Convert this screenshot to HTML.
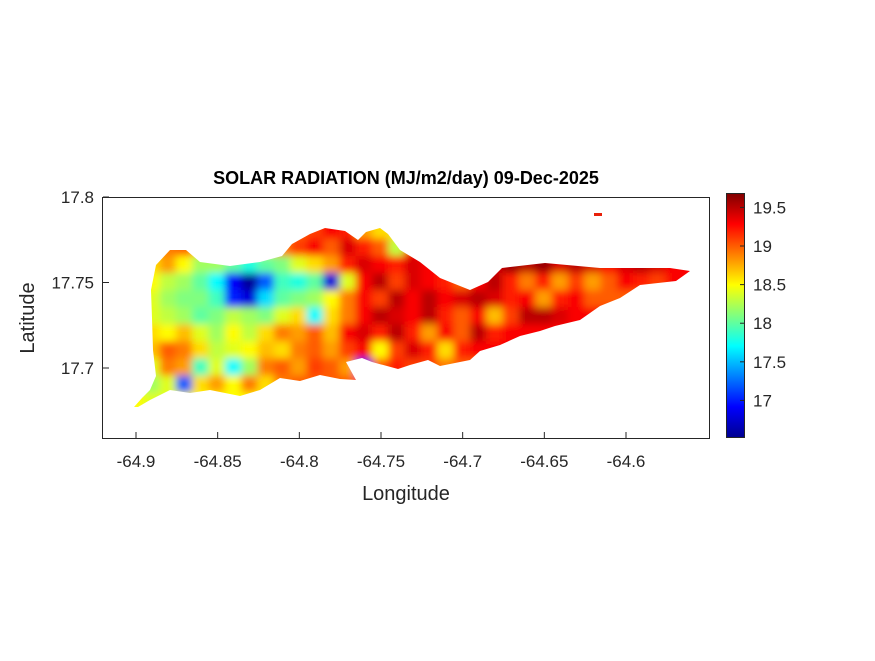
<!DOCTYPE html>
<html><head><meta charset="utf-8"><style>
body{margin:0;background:#fff;}
svg text{font-family:"Liberation Sans",Arial,sans-serif;fill:#262626;}
</style></head><body>
<svg id="chart" width="875" height="656" viewBox="0 0 875 656" xmlns="http://www.w3.org/2000/svg">
<defs>
<filter id="blur" x="-5%" y="-5%" width="110%" height="110%"><feGaussianBlur stdDeviation="4"/></filter>
<clipPath id="island"><polygon points="134,407 142,398 150,390 156,376 153,350 152,318 151,290 156,265 170,250 186,250 200,262 230,266 260,262 282,256 292,244 310,234 325,228 345,231 358,240 366,232 380,228 388,234 400,250 420,262 440,278 470,290 488,282 502,268 545,263 600,268 650,268 670,268 690,271 676,281 640,285 620,298 600,306 580,320 555,326 540,331 520,336 500,345 480,351 470,360 440,366 428,360 410,365 398,369 372,362 362,358 346,362 356,380 340,379 320,375 300,381 280,378 260,390 240,396 210,390 190,393 170,390 150,400 138,407"/></clipPath>
<linearGradient id="jet" x1="0" y1="1" x2="0" y2="0">
<stop offset="0" stop-color="#00008f"/><stop offset="0.125" stop-color="#0000ff"/><stop offset="0.375" stop-color="#00ffff"/><stop offset="0.625" stop-color="#ffff00"/><stop offset="0.875" stop-color="#ff0000"/><stop offset="1" stop-color="#800000"/>
</linearGradient>
</defs>
<g id="cells" clip-path="url(#island)"><g id="cellsInner" filter="url(#blur)"></g></g>
<rect x="594" y="213" width="8" height="3" fill="#e8200a"/>
<rect x="102.5" y="197.5" width="607" height="241" fill="none" stroke="#262626" stroke-width="1"/>
<g id="axes"></g>
<text x="406" y="184" text-anchor="middle" font-size="18" font-weight="bold" style="fill:#000">SOLAR RADIATION (MJ/m2/day) 09-Dec-2025</text>
<text x="406" y="500" text-anchor="middle" font-size="20">Longitude</text>
<text x="0" y="0" transform="translate(34,318) rotate(-90)" text-anchor="middle" font-size="20">Latitude</text>
<rect x="726.5" y="193.5" width="18" height="244" fill="url(#jet)" stroke="#262626" stroke-width="1"/>
<g id="cbar"></g>
</svg>
<script>
const xTicks=[-64.9,-64.85,-64.8,-64.75,-64.7,-64.65,-64.6];
const yTicks=[17.8,17.75,17.7];
const cbTicks=[17,17.5,18,18.5,19,19.5];
const lon0=-64.905, dLon=0.01, lat0=17.795, dLat=0.01;
const row0=[19,19,19,19,19,19,19,19,19,19,19,19,19,19,19,19,19,19,19,19,19,19,19,19,19,19,19,19,19,19,19,19,19,19,19];
const row1=[18.8,18.8,18.9,18.9,18.8,18.8,18.8,18.8,18.8,18.8,19,19.1,19.3,19.2,18.8,18.6,18.6,19.2,19.2,19.2,19.2,19.2,19.2,19.2,19.2,19.2,19.2,19.2,19.2,19.2,19.2,19.2,19.2,19.2,19.2];
const row2=[18.8,18.8,18.9,19.0,18.7,18.5,18.4,18.3,18.6,18.9,19.1,19.3,19.0,19.4,19.2,19.0,18.3,19.3,19.3,19.3,19.3,19.3,19.5,19.6,19.6,19.6,19.5,19.5,19.4,19.4,19.4,19.4,19.4,19.4,19.4];
const row3=[18.5,18.6,18.8,18.5,18.2,18.2,18.0,17.8,18.0,18.1,18.4,18.6,18.8,19.2,19.4,19.3,19.2,19.4,19.3,19.3,19.4,19.3,19.4,19.6,19.5,19.6,19.4,19.5,19.4,19.3,19.4,19.5,19.4,19.3,19.3];
const row4=[18.4,18.5,18.3,18.2,18.0,17.7,16.9,16.6,17.2,17.9,17.8,18.0,16.8,18.4,19.3,19.5,19.1,19.4,19.3,19.2,19.0,19.3,19.5,19.2,18.9,19.2,18.8,19.1,18.8,19.0,19.3,19.2,19.1,19.3,19.3];
const row5=[18.5,18.4,18.2,18.1,18.1,17.9,17.0,16.8,17.6,18.0,18.1,18.2,18.5,18.9,19.3,19.1,19.5,19.3,19.5,19.3,19.4,19.5,19.4,19.2,19.3,18.8,19.2,19.3,19.0,19,19,19,19,19,19];
const row6=[18.5,18.4,18.3,18.2,18.0,18.1,18.3,18.2,18.1,18.4,18.6,17.7,18.6,18.9,19.3,19.5,19.4,19.3,19.5,19.2,19.0,19.3,18.7,19.1,19.5,19.5,19.4,19.3,19.3,19.3,19.3,19.3,19.3,19.3,19.3];
const row7=[18.4,18.6,18.5,18.7,18.4,18.2,18.5,18.3,18.6,18.9,18.8,19.0,18.7,19.3,19.4,19.2,19.5,19.2,18.8,19.3,19.0,19.5,19.2,19.3,19.3,19.3,19.3,19.3,19.3,19.3,19.3,19.3,19.3,19.3,19.3];
const row8=[18.4,18.7,19.0,18.9,18.6,18.3,18.4,18.5,18.7,18.6,18.9,19.0,18.8,19.1,19.3,18.5,19.1,19.4,19.2,18.6,19.2,19.3,19.3,19.3,19.3,19.3,19.3,19.3,19.3,19.3,19.3,19.3,19.3,19.3,19.3];
const row9=[18.3,18.4,18.9,18.8,17.9,18.4,17.7,18.2,18.9,19.0,18.8,19.1,19.0,18.8,17.0,19.0,19.2,19.1,19.1,18.9,19.0,19,19,19,19,19,19,19,19,19,19,19,19,19,19];
const row10=[18.4,18.2,18.4,17.2,18.6,18.8,18.5,18.9,18.6,18.9,19,19,19,19,19,19,19,19,19,19,19,19,19,19,19,19,19,19,19,19,19,19,19,19,19];
const row11=[18.5,18.4,18.4,18.5,18.5,18.5,18.5,18.5,18.5,18.5,18.5,18.5,18.5,18.5,18.5,18.5,18.5,18.5,18.5,18.5,18.5,18.5,18.5,18.5,18.5,18.5,18.5,18.5,18.5,18.5,18.5,18.5,18.5,18.5,18.5];
const grid=[row0,row1,row2,row3,row4,row5,row6,row7,row8,row9,row10,row11];
const cmin=16.52, cmax=19.68;
const NS='http://www.w3.org/2000/svg';
function xs(lon){return 136+(lon+64.9)*(490/0.3);}
function ys(lat){return 197+(17.8-lat)*(171/0.1);}
function cb(v){return 437.5-(v-cmin)/(cmax-cmin)*244;}
function jet(v){let t=(v-cmin)/(cmax-cmin);t=Math.max(0,Math.min(1,t));
 const f=(x)=>Math.max(0,Math.min(1,1.5-Math.abs(4*t-x)));
 const r=f(3),g=f(2),b=f(1);return `rgb(${Math.round(r*255)},${Math.round(g*255)},${Math.round(b*255)})`;}
const inner=document.getElementById('cellsInner');
grid.forEach((row,r)=>row.forEach((v,c)=>{
 const lon=lon0+c*dLon, lat=lat0-r*dLat;
 const x1=xs(lon), x2=xs(lon+dLon), y1=ys(lat), y2=ys(lat-dLat);
 const e=document.createElementNS(NS,'rect');
 e.setAttribute('x',x1-1);e.setAttribute('y',y1-1);e.setAttribute('width',x2-x1+2);e.setAttribute('height',y2-y1+2);
 e.setAttribute('fill',jet(v));
 
 
 inner.appendChild(e);
}));
const ax=document.getElementById('axes');
xTicks.forEach(t=>{const x=xs(t);
 const l=document.createElementNS(NS,'line');l.setAttribute('x1',x);l.setAttribute('x2',x);l.setAttribute('y1',438);l.setAttribute('y2',432);l.setAttribute('stroke','#262626');
 
 
 ax.appendChild(l);
 const tx=document.createElementNS(NS,'text');tx.setAttribute('x',x);tx.setAttribute('y',467);tx.setAttribute('text-anchor','middle');tx.setAttribute('font-size','17');tx.textContent=String(t);
 
 
 ax.appendChild(tx);});
yTicks.forEach(t=>{const y=ys(t);
 const l=document.createElementNS(NS,'line');l.setAttribute('x1',103);l.setAttribute('x2',109);l.setAttribute('y1',y);l.setAttribute('y2',y);l.setAttribute('stroke','#262626');
 
 
 ax.appendChild(l);
 const tx=document.createElementNS(NS,'text');tx.setAttribute('x',94);tx.setAttribute('y',y+6);tx.setAttribute('text-anchor','end');tx.setAttribute('font-size','17');tx.textContent=String(t);
 
 
 ax.appendChild(tx);});
const cbg=document.getElementById('cbar');
cbTicks.forEach(t=>{const y=cb(t);
 const l=document.createElementNS(NS,'line');l.setAttribute('x1',740);l.setAttribute('x2',745);l.setAttribute('y1',y);l.setAttribute('y2',y);l.setAttribute('stroke','#262626');
 
 
 cbg.appendChild(l);
 const tx=document.createElementNS(NS,'text');tx.setAttribute('x',753);tx.setAttribute('y',y+6);tx.setAttribute('font-size','17');tx.textContent=String(t);
 
 
 cbg.appendChild(tx);});
</script>
</body></html>
